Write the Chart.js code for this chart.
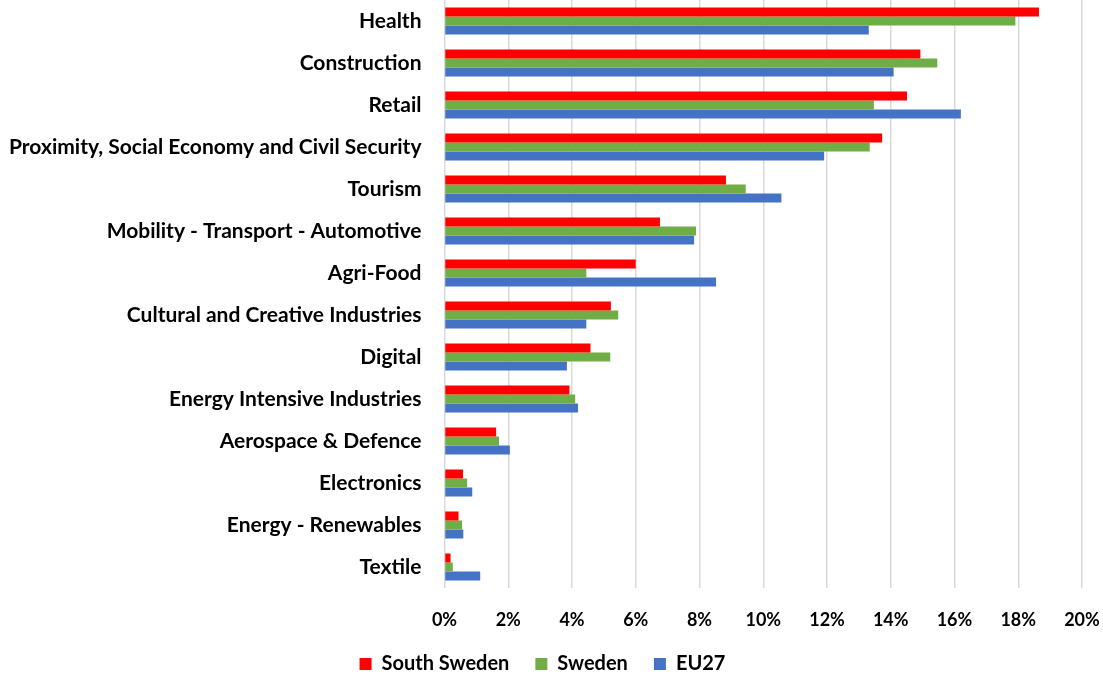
<!DOCTYPE html>
<html>
<head>
<meta charset="utf-8">
<script src="https://cdn.jsdelivr.net/npm/chart.js@4"></script>
<style>
  html, body { margin: 0; padding: 0; background: #fff; }
  #wrap { width: 1103px; height: 679px; }
</style>
</head>
<body>
<div id="wrap"><canvas id="sectorChart"></canvas></div>
<script>
// data (share of employment, %)
const sectors = ["Health", "Construction", "Retail", "Proximity, Social Economy and Civil Security",
  "Tourism", "Mobility - Transport - Automotive", "Agri-Food", "Cultural and Creative Industries",
  "Digital", "Energy Intensive Industries", "Aerospace & Defence", "Electronics",
  "Energy - Renewables", "Textile"];
const southSweden = [18.65, 14.93, 14.51, 13.73, 8.83, 6.76, 6.00, 5.22, 4.58, 3.92, 1.62, 0.58, 0.44, 0.19];
const sweden      = [17.91, 15.46, 13.47, 13.34, 9.45, 7.89, 4.45, 5.45, 5.20, 4.10, 1.71, 0.71, 0.55, 0.26];
const eu27        = [13.31, 14.09, 16.20, 11.91, 10.57, 7.83, 8.52, 4.45, 3.84, 4.19, 2.05, 0.87, 0.59, 1.12];
const xTicks = [0, 2, 4, 6, 8, 10, 12, 14, 16, 18, 20];

const fontFam = "Lato, 'Open Sans', sans-serif";

new Chart(document.getElementById('sectorChart').getContext('2d'), {
  type: 'bar',
  data: {
    labels: sectors,
    datasets: [
      { label: 'South Sweden', data: southSweden, backgroundColor: '#ff0000' },
      { label: 'Sweden', data: sweden, backgroundColor: '#70ad47' },
      { label: 'EU27', data: eu27, backgroundColor: '#4472c4' }
    ]
  },
  options: {
    indexAxis: 'y',
    responsive: true,
    maintainAspectRatio: false,
    animation: false,
    datasets: { bar: { barPercentage: 1, categoryPercentage: 0.64 } },
    layout: { padding: { left: -14, right: 4, top: 0, bottom: -5 } },
    plugins: {
      tooltip: { enabled: false },
      legend: {
        position: 'bottom',
        labels: {
          color: '#000',
          font: { family: fontFam, size: 20, weight: 'bold' },
          boxWidth: 12, boxHeight: 12, padding: 26
        }
      }
    },
    scales: {
      x: {
        min: 0, max: 20,
        afterBuildTicks: function (axis) { axis.ticks = xTicks.map(v => ({ value: v })); },
        afterFit: function (scale) { scale.height = 40; scale.paddingLeft = 0; scale.paddingRight = 21; },
        ticks: {
          color: '#000', padding: 23,
          font: { family: fontFam, size: 18, weight: 'bold', lineHeight: 1 },
          callback: v => v + '%'
        },
        grid: { color: '#d9d9d9', lineWidth: 1.5, drawTicks: false },
        border: { display: false }
      },
      y: {
        afterFit: function (scale) { scale.paddingTop = 0; scale.paddingBottom = 0; },
        ticks: {
          color: '#000', padding: 23,
          font: { family: fontFam, size: 21, weight: 'bold' }
        },
        grid: { display: false, drawTicks: false },
        border: { display: false }
      }
    }
  }
});
</script>
</body>
</html>
